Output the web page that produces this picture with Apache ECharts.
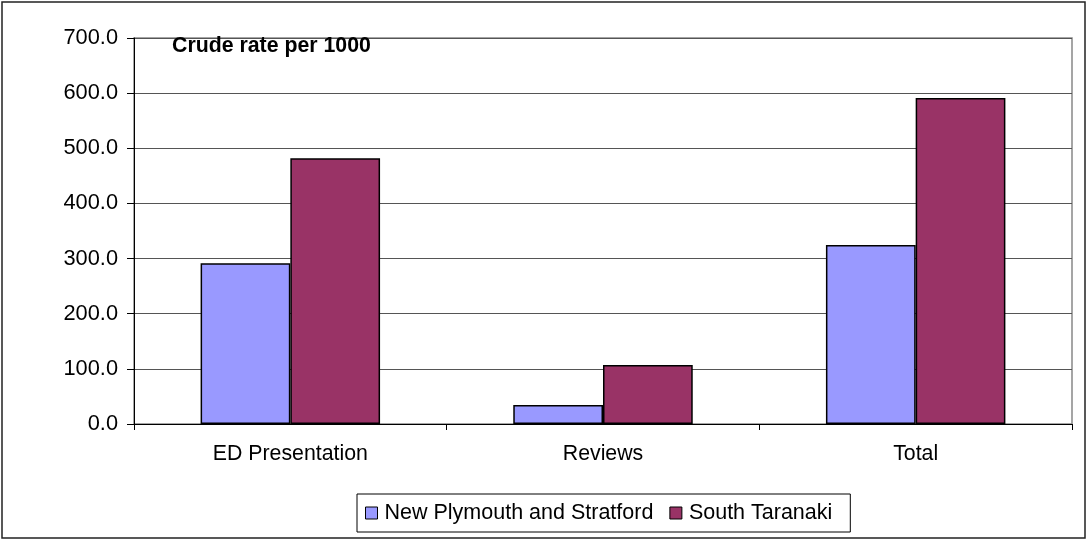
<!DOCTYPE html>
<html>
<head>
<meta charset="utf-8">
<script src="https://cdn.jsdelivr.net/npm/echarts@6/dist/echarts.min.js"></script>
<style>
html,body{margin:0;padding:0;background:#fff;}
#c{width:1087px;height:540px;}
</style>
</head>
<body>
<div id="c"></div>
<script>
const categories = ['ED Presentation', 'Reviews', 'Total'];
const seriesNames = ['New Plymouth and Stratford', 'South Taranaki'];
const newPlymouthStratford = [291.5, 34.5, 324.5];
const southTaranaki = [482.0, 107.0, 591.0];
const yTicks = { min: 0, max: 700, interval: 100 };

const FONT = '"Liberation Sans", Arial, sans-serif';
const chart = echarts.init(document.getElementById('c'), null, { renderer: 'canvas' });
chart.setOption({
  animation: false,
  backgroundColor: '#fff',
  textStyle: { fontFamily: FONT },
  title: {
    text: 'Crude rate per 1000',
    left: 172, top: 36, padding: 0,
    textStyle: { fontFamily: FONT, fontSize: 21.3, fontWeight: 'bold', color: '#000' }
  },
  legend: {
    data: seriesNames,
    left: 357, top: 494,
    padding: [8, 18, 8, 8],
    borderColor: '#000', borderWidth: 1,
    itemWidth: 12, itemHeight: 12, itemGap: 16,
    icon: 'rect',
    itemStyle: { borderColor: '#000', borderWidth: 1 },
    textStyle: { fontFamily: FONT, fontSize: 21.5, color: '#000', padding: [0, 0, 0, 2] }
  },
  grid: {
    left: 134, right: 15, top: 38, bottom: 116,
    show: true, borderColor: '#888', borderWidth: 1.5, backgroundColor: '#fff'
  },
  xAxis: {
    type: 'category',
    data: categories,
    axisLine: { lineStyle: { color: '#000', width: 1 } },
    axisTick: { show: true, length: 6, lineStyle: { color: '#000' } },
    axisLabel: { margin: 20, fontFamily: FONT, fontSize: 21.3, color: '#000' }
  },
  yAxis: {
    type: 'value',
    min: yTicks.min, max: yTicks.max, interval: yTicks.interval,
    axisLine: { show: true, lineStyle: { color: '#000', width: 1 } },
    axisTick: { show: true, length: 7, lineStyle: { color: '#000' } },
    axisLabel: { margin: 16, fontFamily: FONT, fontSize: 21.8, color: '#000',
      formatter: v => v.toFixed(1) },
    splitLine: { show: true, lineStyle: { color: '#555', width: 1 } }
  },
  series: [
    {
      name: seriesNames[0], type: 'bar', data: newPlymouthStratford,
      barGap: '0%', barCategoryGap: '42.6%',
      itemStyle: { color: '#9999FF', borderColor: '#000', borderWidth: 1.5 }
    },
    {
      name: seriesNames[1], type: 'bar', data: southTaranaki,
      barGap: '0%', barCategoryGap: '42.6%',
      itemStyle: { color: '#993366', borderColor: '#000', borderWidth: 1.5 }
    }
  ],
  graphic: [{
    type: 'rect', silent: true, z: 100,
    shape: { x: 2, y: 2, width: 1083, height: 536 },
    style: { fill: 'none', stroke: '#222', lineWidth: 1.5 }
  }]
});
</script>
</body>
</html>
